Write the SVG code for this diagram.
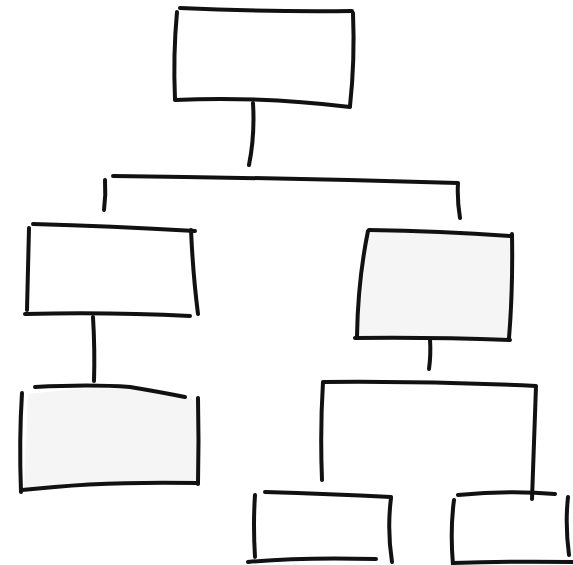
<svg xmlns="http://www.w3.org/2000/svg" width="573" height="565" viewBox="0 0 573 565">
<style>
.s{fill:none;stroke:#111;stroke-width:4;stroke-linecap:round;stroke-linejoin:round}
.f{fill:#f5f5f5;stroke:none}
</style>
<rect width="573" height="565" fill="#fff"/>
<g id="connectors" class="s">
<path d="M253,103 Q255,135 249,165"/>
<path d="M113,176 Q290,178 458,183 Q457,200 460,218"/>
<path d="M105,180 Q106,195 104,210"/>
<path d="M93,317 Q95,350 94,381"/>
<path d="M430,339 Q431,355 429,369"/>
<path d="M322,480 Q320,430 323,382 Q430,381 536,386 Q534,440 532,499"/>
</g>
<g id="root" class="s">
<path d="M180,8 Q265,12 352,11"/>
<path d="M177,12 Q173,55 175,99"/>
<path d="M353,13 Q355,60 350,106"/>
<path d="M175,100 Q260,96 350,107"/>
</g>
<g id="left-child" class="s">
<path d="M33,224 Q110,226 195,231"/>
<path d="M29,228 Q28,270 27,310"/>
<path d="M191,230 Q193,275 198,314"/>
<path d="M25,314 Q110,312 190,316"/>
</g>
<g id="right-child">
<path class="f" d="M369,230 L511,236 L510,339 L357,338 Z"/>
<path class="s" d="M369,230 Q440,231 510,236"/>
<path class="s" d="M368,231 Q358,280 357,336"/>
<path class="s" d="M512,234 Q513,290 509,338"/>
<path class="s" d="M355,338 Q430,337 510,340"/>
</g>
<g id="left-grandchild">
<path class="f" d="M28,394 Q90,386 130,389 Q160,393 196,400 L196,483 L24,488 Z"/>
<path class="s" d="M35,387 Q90,384 130,387 Q160,392 185,397"/>
<path class="s" d="M22,393 Q19,440 21,492"/>
<path class="s" d="M198,398 Q199,440 198,484"/>
<path class="s" d="M22,490 Q100,481 198,483"/>
</g>
<g id="bottom-middle" class="s">
<path d="M265,492 Q330,494 391,497"/>
<path d="M255,495 Q253,525 255,557"/>
<path d="M391,498 Q387,530 392,562"/>
<path d="M248,562 Q300,557 376,559"/>
</g>
<g id="bottom-right" class="s">
<path d="M458,495 Q510,490 555,494"/>
<path d="M454,500 Q450,530 453,565"/>
<path d="M568,497 Q565,525 569,555"/>
<path d="M453,563 Q510,561 573,562"/>
</g>
</svg>
